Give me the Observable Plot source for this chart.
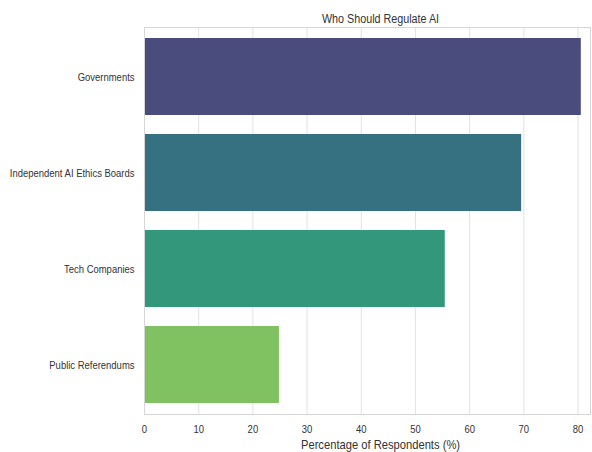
<!DOCTYPE html>
<html>
<head>
<meta charset="utf-8">
<script src="https://cdn.jsdelivr.net/npm/d3@7"></script>
<script src="https://cdn.jsdelivr.net/npm/@observablehq/plot@0.6"></script>
<style>
  html, body { margin: 0; padding: 0; background: #fff; }
  svg { font-family: "Liberation Sans", Arial, sans-serif; }
</style>
</head>
<body>
<div id="chart"></div>
<script>
const categories = ["Governments", "Independent AI Ethics Boards", "Tech Companies", "Public Referendums"];
const values = [80.6, 69.6, 55.5, 24.9];
const colors = ["#4a4c7e", "#367181", "#33977c", "#80c161"];
const xTicks = [0, 10, 20, 30, 40, 50, 60, 70, 80];
const titleText = "Who Should Regulate AI";
const xLabel = "Percentage of Respondents (%)";

const data = categories.map((c, i) => ({category: c, value: values[i], color: colors[i]}));

const chart = Plot.plot({
  width: 592,
  height: 452,
  marginTop: 27,
  marginBottom: 38,
  marginLeft: 144,
  marginRight: 2,
  style: {fontSize: "11px", color: "#333", background: "#fff"},
  x: {domain: [0, 82.3]},
  y: {domain: categories, paddingInner: 0.2, paddingOuter: 0.1},
  marks: [
    Plot.gridX(xTicks, {stroke: "#e2e2e2", strokeOpacity: 1, strokeWidth: 1}),
    Plot.barX(data, {y: "category", x: "value", fill: "color"}),
    Plot.frame({stroke: "#d6d6d6", strokeWidth: 1}),
    Plot.axisX(xTicks, {tickSize: 0, tickPadding: 11, label: null, fontSize: 11, color: "#333"}),
    Plot.axisY({tickSize: 0, tickPadding: 10, label: null, fontSize: 11, color: "#333"}),
    Plot.text([xLabel], {frameAnchor: "bottom", dx: 13, dy: 34, fontSize: 13, fill: "#333"}),
    Plot.text([titleText], {frameAnchor: "top", dx: 13, dy: -13, fontSize: 12.5, fill: "#333"})
  ]
});
document.getElementById("chart").appendChild(chart);
// condense glyphs horizontally to match the narrow look of the reference
chart.querySelectorAll("text").forEach(t => {
  const len = t.getComputedTextLength();
  if (len > 0) {
    t.setAttribute("textLength", (len * 0.86).toFixed(2));
    t.setAttribute("lengthAdjust", "spacingAndGlyphs");
  }
});
</script>
</body>
</html>
